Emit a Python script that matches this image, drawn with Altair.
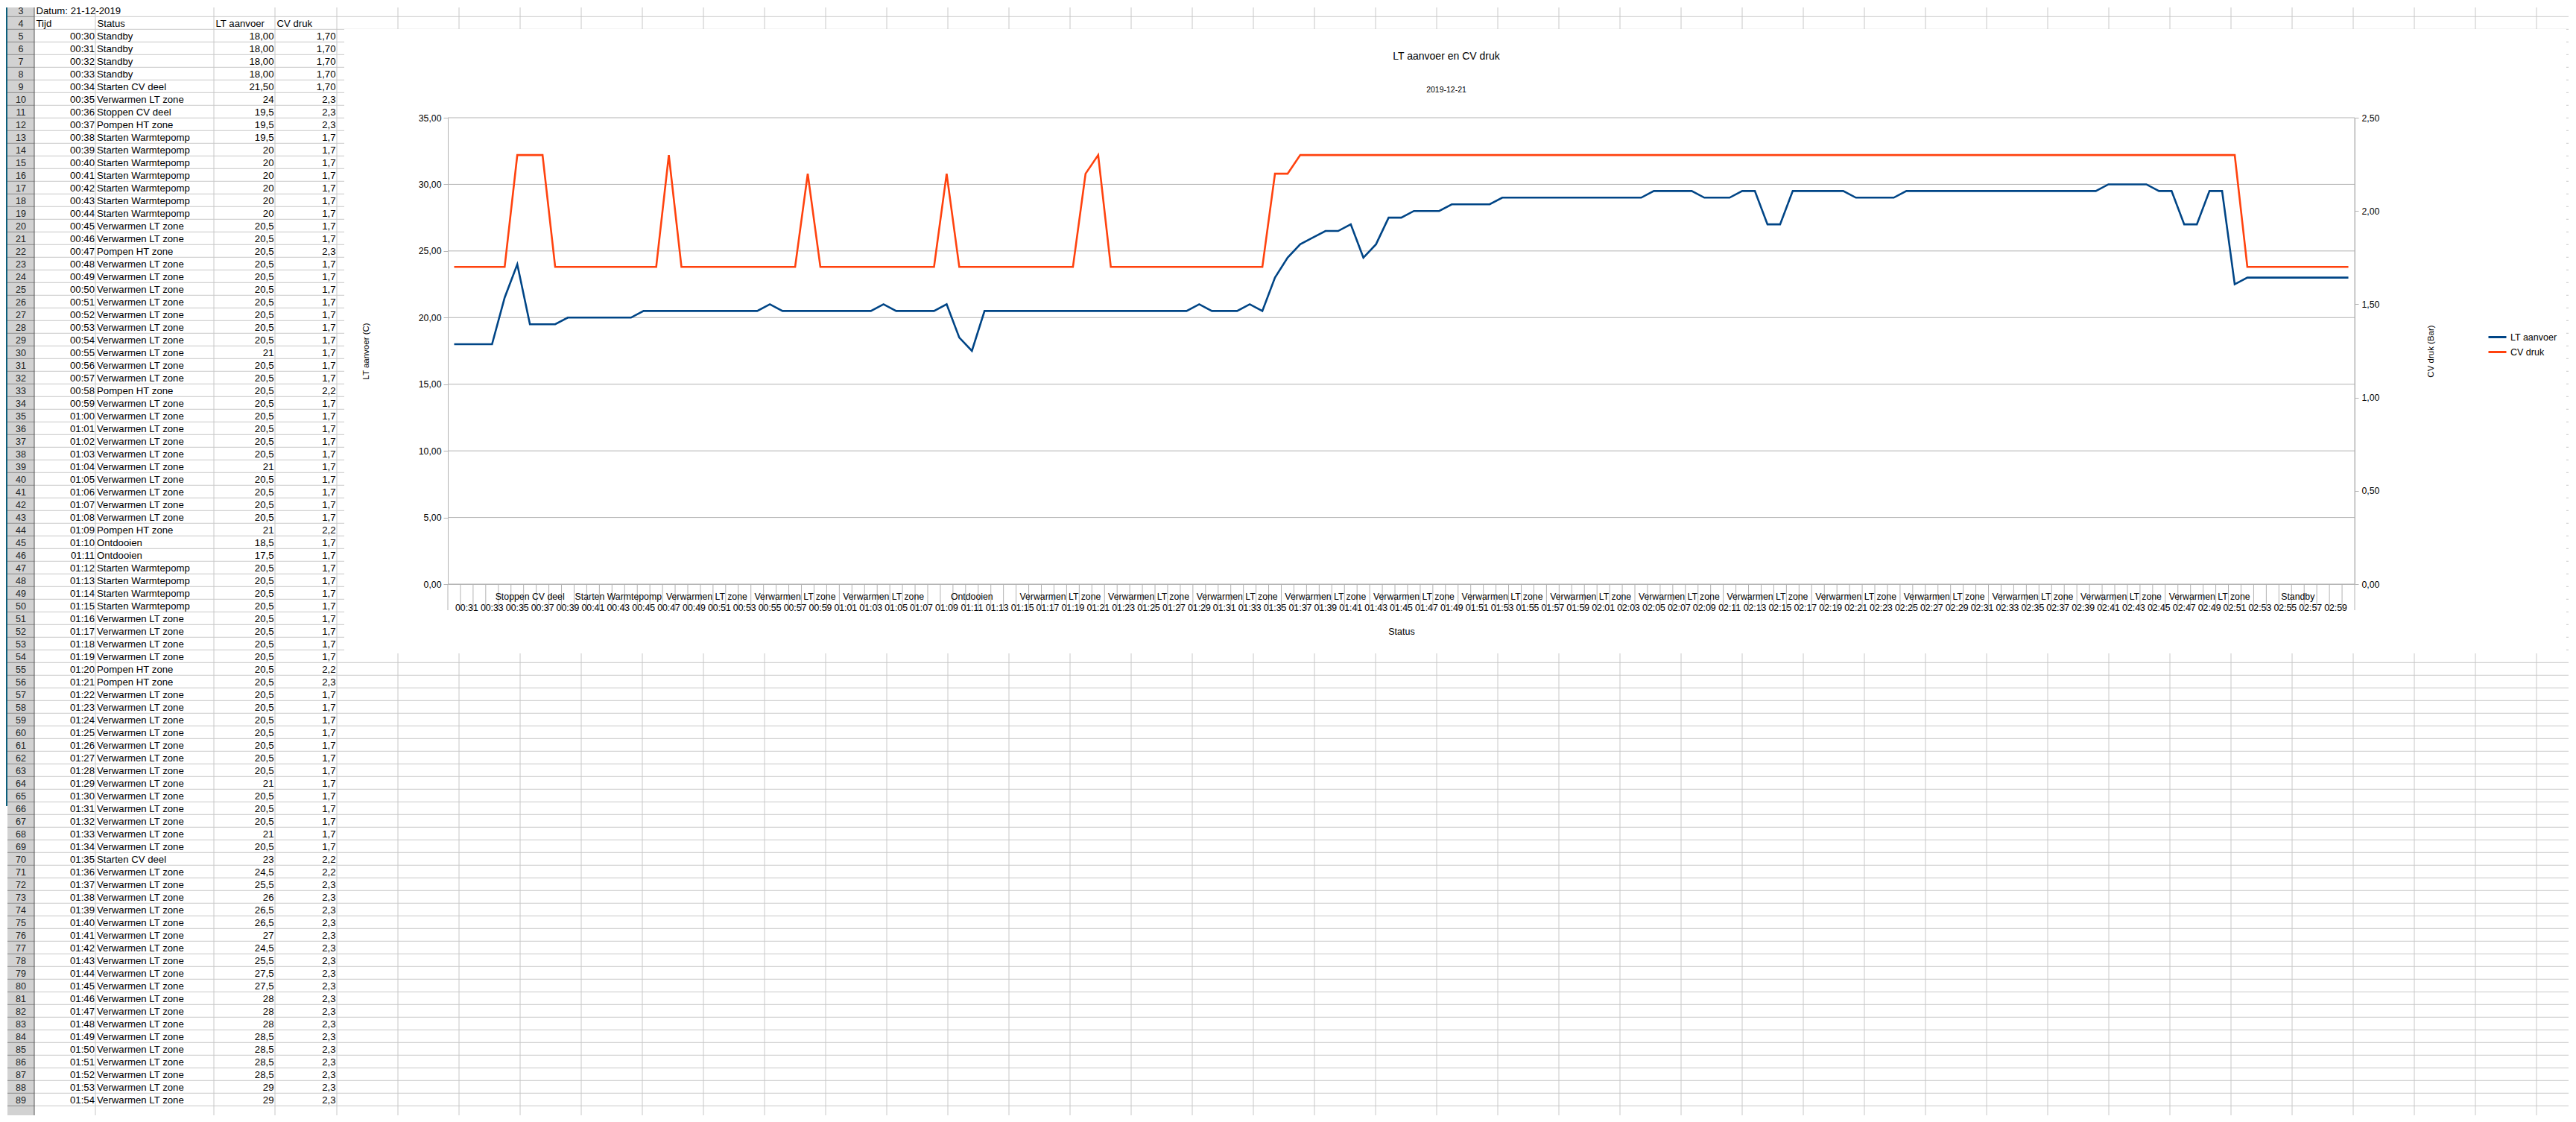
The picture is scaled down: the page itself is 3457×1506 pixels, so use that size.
import altair as alt
import pandas as pd

# ------------------------------------------------------------------ data
START_MIN = 30
times = [f"{(START_MIN + i) // 60:02d}:{(START_MIN + i) % 60:02d}" for i in range(151)]

VLT = "Verwarmen LT zone"
SW = "Starten Warmtepomp"
PHT = "Pompen HT zone"
status = (["Standby"] * 4 + ["Starten CV deel", VLT, "Stoppen CV deel", PHT] + [SW] * 7
          + [VLT] * 2 + [PHT] + [VLT] * 10 + [PHT] + [VLT] * 10 + [PHT]
          + ["Ontdooien"] * 2 + [SW] * 4 + [VLT] * 4 + [PHT] * 2 + [VLT] * 13
          + ["Starten CV deel"] + [VLT] * 76 + ["Standby"] * 9)

lt_aanvoer = [
    18, 18, 18, 18, 21.5, 24, 19.5, 19.5, 19.5, 20,
    20, 20, 20, 20, 20, 20.5, 20.5, 20.5, 20.5, 20.5,
    20.5, 20.5, 20.5, 20.5, 20.5, 21, 20.5, 20.5, 20.5, 20.5,
    20.5, 20.5, 20.5, 20.5, 21, 20.5, 20.5, 20.5, 20.5, 21,
    18.5, 17.5, 20.5, 20.5, 20.5, 20.5, 20.5, 20.5, 20.5, 20.5,
    20.5, 20.5, 20.5, 20.5, 20.5, 20.5, 20.5, 20.5, 20.5, 21,
    20.5, 20.5, 20.5, 21, 20.5, 23, 24.5, 25.5, 26, 26.5,
    26.5, 27, 24.5, 25.5, 27.5, 27.5, 28, 28, 28, 28.5,
    28.5, 28.5, 28.5, 29, 29, 29, 29, 29, 29, 29,
    29, 29, 29, 29, 29, 29.5, 29.5, 29.5, 29.5, 29,
    29, 29, 29.5, 29.5, 27, 27, 29.5, 29.5, 29.5, 29.5,
    29.5, 29, 29, 29, 29, 29.5, 29.5, 29.5, 29.5, 29.5,
    29.5, 29.5, 29.5, 29.5, 29.5, 29.5, 29.5, 29.5, 29.5, 29.5,
    29.5, 30, 30, 30, 30, 29.5, 29.5, 27, 27, 29.5,
    29.5, 22.5, 23, 23, 23, 23, 23, 23, 23, 23,
    23,
]

cv_druk = [
    1.7, 1.7, 1.7, 1.7, 1.7, 2.3, 2.3, 2.3, 1.7, 1.7,
    1.7, 1.7, 1.7, 1.7, 1.7, 1.7, 1.7, 2.3, 1.7, 1.7,
    1.7, 1.7, 1.7, 1.7, 1.7, 1.7, 1.7, 1.7, 2.2, 1.7,
    1.7, 1.7, 1.7, 1.7, 1.7, 1.7, 1.7, 1.7, 1.7, 2.2,
    1.7, 1.7, 1.7, 1.7, 1.7, 1.7, 1.7, 1.7, 1.7, 1.7,
    2.2, 2.3, 1.7, 1.7, 1.7, 1.7, 1.7, 1.7, 1.7, 1.7,
    1.7, 1.7, 1.7, 1.7, 1.7, 2.2, 2.2, 2.3, 2.3, 2.3,
    2.3, 2.3, 2.3, 2.3, 2.3, 2.3, 2.3, 2.3, 2.3, 2.3,
    2.3, 2.3, 2.3, 2.3, 2.3, 2.3, 2.3, 2.3, 2.3, 2.3,
    2.3, 2.3, 2.3, 2.3, 2.3, 2.3, 2.3, 2.3, 2.3, 2.3,
    2.3, 2.3, 2.3, 2.3, 2.3, 2.3, 2.3, 2.3, 2.3, 2.3,
    2.3, 2.3, 2.3, 2.3, 2.3, 2.3, 2.3, 2.3, 2.3, 2.3,
    2.3, 2.3, 2.3, 2.3, 2.3, 2.3, 2.3, 2.3, 2.3, 2.3,
    2.3, 2.3, 2.3, 2.3, 2.3, 2.3, 2.3, 2.3, 2.3, 2.3,
    2.3, 2.3, 1.7, 1.7, 1.7, 1.7, 1.7, 1.7, 1.7, 1.7,
    1.7,
]

series_names = ["LT aanvoer", "CV druk"]
series_colors = ["#004586", "#ff420e"]
left_ticks = [0, 5, 10, 15, 20, 25, 30, 35]
chart_title = "LT aanvoer en CV druk"
chart_subtitle = "2019-12-21"
sheet_date = "Datum: 21-12-2019"
table_headers = ["Tijd", "Status", "LT aanvoer", "CV druk"]
TABLE_FIRST_DATA_ROW = 5
TABLE_N = 86          # sheet rows 5..90 hold the first 86 readings

# ------------------------------------------------------------------ layout (page pixels)
W, H = 2559, 626                 # plot area
PX0, PY0 = 601, 156              # page position of plot area
PAGE_L, PAGE_T = 8, 8
PAGE_R, PAGE_B = 3447, 1495
FONT = "Liberation Sans"
GRID = "#b3b3b3"
SHEET_GRID = "#c8c8c8"


def vx(p):
    return p - PX0


def vy(p):
    return p - PY0


ROW_TOP0, ROW_H = 3.3, 17.0
FIRST_ROW, LAST_ROW = 3, 90
r_at_top = FIRST_ROW + (PY0 - ROW_TOP0) / ROW_H
r_at_bottom = r_at_top + H / ROW_H
row_scale = alt.Scale(domain=[r_at_top, r_at_bottom], reverse=True, nice=False, zero=False)

COL_HDR_L, COL_A, COL_B, COL_C, COL_D, COL_E = 10, 46, 128, 287, 369, 452
COL_W = 82
N_UNI = 37
k_at_left = (PX0 - COL_E) / COL_W
k_at_right = k_at_left + W / COL_W
col_scale = alt.Scale(domain=[k_at_left, k_at_right], nice=False, zero=False)


def fmt(v, two):
    s = f"{v:.2f}" if two else f"{v:g}"
    return s.replace(".", ",")


df = pd.DataFrame({"idx": list(range(len(times))), "time": times, "status": status,
                   "lt": lt_aanvoer, "cv": cv_druk})
df_lt = pd.DataFrame({"time": times, "value": lt_aanvoer, "series": series_names[0]})
df_cv = pd.DataFrame({"time": times, "value": cv_druk, "series": series_names[1]})

tab = df.iloc[:TABLE_N].copy()
tab["row"] = [TABLE_FIRST_DATA_ROW + i for i in range(TABLE_N)]
tab["lt_s"] = [fmt(v, i < 5) for i, v in enumerate(tab["lt"])]
tab["cv_s"] = [fmt(v, i < 5) for i, v in enumerate(tab["cv"])]

one = pd.DataFrame({"a": [0]})
rows_df = pd.DataFrame({"r": list(range(FIRST_ROW + 1, LAST_ROW + 1))})
rownum_df = pd.DataFrame({"r": list(range(FIRST_ROW, LAST_ROW)),
                          "t": [str(r) for r in range(FIRST_ROW, LAST_ROW)]})
cols_df = pd.DataFrame({"k": list(range(N_UNI))})


def ry(field="r"):
    return alt.Y(f"{field}:Q", scale=row_scale, axis=None)


# ------------------------------------------------------------------ spreadsheet layers
strip = alt.Chart(one).mark_rect(color="#0d5f7c").encode(
    x=alt.value(vx(PAGE_L)), x2=alt.value(vx(COL_HDR_L)), y=alt.value(vy(PAGE_T)), y2=alt.value(vy(1080)))

hdr_fill = alt.Chart(one).mark_rect(color="#d2d2d2").encode(
    x=alt.value(vx(COL_HDR_L)), x2=alt.value(vx(COL_A)), y=alt.value(vy(PAGE_T)), y2=alt.value(vy(PAGE_B)))

h_grid = alt.Chart(rows_df).mark_rule(color=SHEET_GRID, strokeWidth=1).encode(
    y=ry(), x=alt.value(vx(COL_A)), x2=alt.value(vx(PAGE_R)))
h_grid_hdr = alt.Chart(rows_df).mark_rule(color="#8a8a8a", strokeWidth=1).encode(
    y=ry(), x=alt.value(vx(COL_HDR_L)), x2=alt.value(vx(COL_A)))

v_layers = []
for edge, colr in [(COL_A, "#555555"), (COL_B, SHEET_GRID), (COL_C, SHEET_GRID), (COL_D, SHEET_GRID)]:
    v_layers.append(alt.Chart(one).mark_rule(color=colr, strokeWidth=1).encode(
        x=alt.value(vx(edge)), y=alt.value(vy(PAGE_T)), y2=alt.value(vy(PAGE_B))))
v_uni = alt.Chart(cols_df).mark_rule(color=SHEET_GRID, strokeWidth=1).encode(
    x=alt.X("k:Q", scale=col_scale, axis=None), y=alt.value(vy(PAGE_T)), y2=alt.value(vy(PAGE_B)))

TXT = dict(baseline="alphabetic", dy=13.8, fontSize=13.2, font=FONT, color="black")

rownums = alt.Chart(rownum_df).mark_text(align="center", baseline="alphabetic", dy=13.3,
                                         fontSize=12.5, font=FONT, color="#222222").encode(
    y=ry(), x=alt.value(vx(28)), text="t:N")

date_txt = alt.Chart(pd.DataFrame({"r": [3], "t": [sheet_date]})).mark_text(align="left", **TXT).encode(
    y=ry(), x=alt.value(vx(COL_A + 2.5)), text="t:N")

hdr_layers = []
for name, left in zip(table_headers, [COL_A, COL_B, COL_C, COL_D]):
    hdr_layers.append(alt.Chart(pd.DataFrame({"r": [4], "t": [name]})).mark_text(align="left", **TXT).encode(
        y=ry(), x=alt.value(vx(left + 2.5)), text="t:N"))

tab_shown = tab[tab["row"] < LAST_ROW]
col_time = alt.Chart(tab_shown).mark_text(align="right", **TXT).encode(
    y=ry("row"), x=alt.value(vx(COL_B - 1)), text="time:N")
col_status = alt.Chart(tab_shown).mark_text(align="left", **TXT).encode(
    y=ry("row"), x=alt.value(vx(COL_B + 2)), text="status:N")
col_lt = alt.Chart(tab_shown).mark_text(align="right", **TXT).encode(
    y=ry("row"), x=alt.value(vx(COL_D - 1.5)), text="lt_s:N")
col_cv = alt.Chart(tab_shown).mark_text(align="right", **TXT).encode(
    y=ry("row"), x=alt.value(vx(COL_E - 1.5)), text="cv_s:N")

chart_bg = alt.Chart(one).mark_rect(color="white").encode(
    x=alt.value(vx(462)), x2=alt.value(vx(3444)), y=alt.value(vy(37)), y2=alt.value(vy(875)))

# chart title and subtitle (placed inside the chart object, above the plot)
title_txt = alt.Chart(pd.DataFrame({"t": [chart_title]})).mark_text(
    align="center", baseline="middle", fontSize=14, font=FONT, color="black").encode(
    x=alt.value(vx(1941)), y=alt.value(vy(74)), text="t:N")
subtitle_txt = alt.Chart(pd.DataFrame({"t": [chart_subtitle]})).mark_text(
    align="center", baseline="middle", fontSize=10.5, font=FONT, color="black").encode(
    x=alt.value(vx(1941)), y=alt.value(vy(119)), text="t:N")

# ------------------------------------------------------------------ chart layers
x_scale = alt.Scale(type="band", domain=times, paddingInner=0, paddingOuter=0)
comma2 = "replace(format(datum.value, '.2f'), '.', ',')"

x_axis = alt.Axis(orient="bottom", ticks=False, tickSize=0, domainColor=GRID,
                  labelExpr="toNumber(slice(datum.value, 3)) % 2 == 1 ? datum.value : ''",
                  labelAngle=0, labelFontSize=12.3, labelFont=FONT, labelColor="black",
                  labelBaseline="middle", labelPadding=31, labelOverlap=False,
                  title="Status", titleFont=FONT, titleFontSize=12.5, titleFontWeight="normal",
                  titleColor="black", titlePadding=20, grid=False, zindex=1)

left_axis = alt.Axis(orient="left", tickCount=8, labelExpr=comma2, grid=False,
                     domainColor=GRID, tickColor=GRID, tickSize=6, labelPadding=3,
                     labelFontSize=12.3, labelFont=FONT, labelColor="black",
                     title="LT aanvoer (C)", titleFont=FONT, titleFontSize=11.5, titleFontWeight="normal",
                     titleColor="black", titleAngle=270, titleBaseline="middle", titlePadding=70,
                     zindex=1)

right_axis = alt.Axis(orient="right", tickCount=6, labelExpr=comma2, grid=False,
                      domainColor=GRID, tickColor=GRID, tickSize=5, labelPadding=4,
                      labelFontSize=12.3, labelFont=FONT, labelColor="black",
                      title="CV druk (Bar)", titleFont=FONT, titleFontSize=11.5, titleFontWeight="normal",
                      titleColor="black", titleAngle=270, titleBaseline="middle", titlePadding=70,
                      zindex=1)

color_scale = alt.Scale(domain=series_names, range=series_colors)
legend = alt.Legend(orient="none", legendX=2737, legendY=281, title=None,
                    symbolType="stroke", symbolSize=576, symbolStrokeWidth=3, rowPadding=0,
                    labelFontSize=12.5, labelFont=FONT, labelColor="black", labelOffset=4)

plot_grid = alt.Chart(pd.DataFrame({"g": left_ticks})).mark_rule(color=GRID, strokeWidth=1).encode(
    y=alt.Y("g:Q", scale=alt.Scale(domain=[0, 35], nice=False), axis=None))

band_ticks = alt.Chart(df).mark_rule(color=GRID, strokeWidth=1).encode(
    x=alt.X("time:O", sort=None, scale=x_scale, axis=None, bandPosition=0),
    y=alt.value(H), y2=alt.value(H + 35))
end_tick = alt.Chart(one).mark_rule(color=GRID, strokeWidth=1).encode(
    x=alt.value(W), y=alt.value(0), y2=alt.value(H + 35))

outer_labels = alt.Chart(df).transform_filter("datum.idx % 7 == 6").mark_text(
    align="center", baseline="middle", fontSize=12.3, font=FONT, color="black").encode(
    x=alt.X("time:O", sort=None, scale=x_scale, axis=None),
    y=alt.value(vy(799)), text="status:N")

lt_line = alt.Chart(df_lt).mark_line(strokeWidth=2.6).encode(
    x=alt.X("time:O", sort=None, scale=x_scale, axis=x_axis),
    y=alt.Y("value:Q", scale=alt.Scale(domain=[0, 35], nice=False), axis=left_axis),
    color=alt.Color("series:N", scale=color_scale, legend=legend))

cv_line = alt.Chart(df_cv).mark_line(strokeWidth=2.6).encode(
    x=alt.X("time:O", sort=None, scale=x_scale, axis=None),
    y=alt.Y("value:Q", scale=alt.Scale(domain=[0, 2.5], nice=False), axis=right_axis),
    color=alt.Color("series:N", scale=color_scale, legend=legend))

layers = ([strip, hdr_fill, h_grid, h_grid_hdr] + v_layers + [v_uni, rownums, date_txt] + hdr_layers
          + [col_time, col_status, col_lt, col_cv, chart_bg, title_txt, subtitle_txt, plot_grid,
             band_ticks, end_tick, outer_labels, cv_line, lt_line])

chart = alt.layer(*layers).resolve_scale(
    x="independent", y="independent"
).properties(
    width=W, height=H, padding=0,
).configure(font=FONT).configure_view(stroke=None)

chart.save("out.html", embed_options={"renderer": "svg", "actions": False})
